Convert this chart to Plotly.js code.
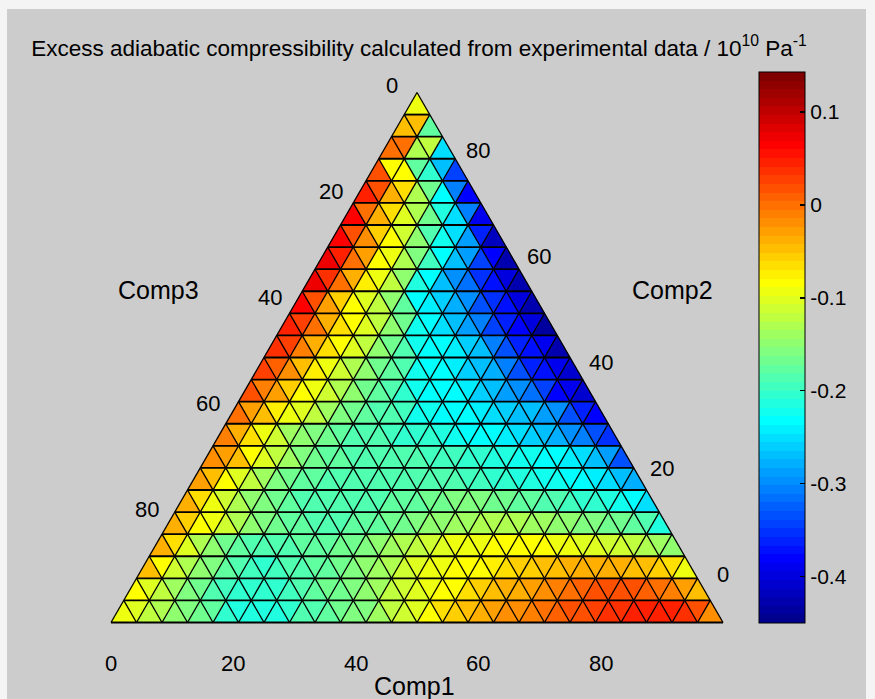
<!DOCTYPE html>
<html><head><meta charset="utf-8">
<script src="https://cdn.plot.ly/plotly-3.0.1.min.js"></script>
<style>html,body{margin:0;padding:0;background:#ffffff;}#chart{width:875px;height:699px;}</style>
</head><body><div id="chart"></div>
<script>
// ---------------- DATA ----------------
// Triangle mesh: 24 subdivisions per side. Each row (bottom -> top) lists the
// triangle values left -> right (alternating up / down triangles).
const nDiv = 24;
const row00 = [-0.09,-0.10,-0.12,-0.13,-0.15,-0.16,-0.17,-0.18,-0.20,-0.21,-0.215,-0.21,-0.21,-0.20,-0.19,-0.185,-0.18,-0.17,-0.16,-0.155,-0.14,-0.125,-0.11,-0.10,-0.085,-0.07,-0.06,-0.05,-0.04,-0.03,-0.02,-0.02,-0.01,0.0,0.01,0.02,0.02,0.03,0.04,0.04,0.045,0.05,0.05,0.05,0.04,0.02,-0.02];
const row01 = [-0.08,-0.10,-0.12,-0.14,-0.155,-0.17,-0.185,-0.195,-0.20,-0.205,-0.20,-0.20,-0.195,-0.19,-0.18,-0.17,-0.165,-0.16,-0.15,-0.14,-0.125,-0.11,-0.10,-0.09,-0.085,-0.08,-0.07,-0.06,-0.05,-0.04,-0.035,-0.03,-0.02,-0.01,0.0,0.01,0.015,0.02,0.02,0.015,0.01,0.0,-0.01,-0.03,-0.05];
const row02 = [-0.05,-0.08,-0.11,-0.13,-0.15,-0.16,-0.175,-0.19,-0.195,-0.20,-0.195,-0.19,-0.185,-0.18,-0.175,-0.17,-0.16,-0.15,-0.14,-0.13,-0.115,-0.105,-0.095,-0.09,-0.085,-0.085,-0.08,-0.075,-0.07,-0.06,-0.055,-0.05,-0.045,-0.04,-0.035,-0.035,-0.035,-0.04,-0.045,-0.05,-0.06,-0.07,-0.09];
const row03 = [-0.04,-0.07,-0.10,-0.13,-0.15,-0.165,-0.18,-0.19,-0.19,-0.19,-0.185,-0.18,-0.18,-0.175,-0.17,-0.165,-0.16,-0.15,-0.14,-0.13,-0.12,-0.11,-0.10,-0.095,-0.09,-0.09,-0.085,-0.085,-0.08,-0.08,-0.085,-0.09,-0.095,-0.10,-0.105,-0.11,-0.115,-0.12,-0.13,-0.14,-0.15];
const row04 = [-0.04,-0.06,-0.08,-0.09,-0.11,-0.13,-0.145,-0.16,-0.17,-0.175,-0.18,-0.185,-0.185,-0.185,-0.18,-0.18,-0.175,-0.17,-0.165,-0.16,-0.15,-0.145,-0.14,-0.135,-0.13,-0.13,-0.13,-0.13,-0.135,-0.14,-0.145,-0.15,-0.155,-0.16,-0.165,-0.17,-0.18,-0.19,-0.21];
const row05 = [-0.04,-0.07,-0.09,-0.11,-0.13,-0.15,-0.16,-0.17,-0.18,-0.185,-0.19,-0.19,-0.19,-0.19,-0.185,-0.185,-0.18,-0.18,-0.175,-0.17,-0.165,-0.16,-0.16,-0.16,-0.165,-0.17,-0.175,-0.18,-0.185,-0.19,-0.195,-0.20,-0.205,-0.21,-0.22,-0.235,-0.25];
const row06 = [-0.03,-0.05,-0.08,-0.10,-0.12,-0.14,-0.155,-0.165,-0.175,-0.18,-0.185,-0.19,-0.19,-0.19,-0.19,-0.19,-0.19,-0.19,-0.19,-0.19,-0.19,-0.195,-0.195,-0.20,-0.205,-0.21,-0.215,-0.22,-0.225,-0.23,-0.235,-0.24,-0.25,-0.265,-0.28];
const row07 = [-0.02,-0.03,-0.05,-0.08,-0.10,-0.12,-0.14,-0.155,-0.165,-0.175,-0.18,-0.185,-0.19,-0.19,-0.19,-0.19,-0.19,-0.195,-0.195,-0.195,-0.20,-0.205,-0.21,-0.215,-0.22,-0.225,-0.23,-0.235,-0.24,-0.25,-0.265,-0.29,-0.33];
const row08 = [-0.01,-0.04,-0.07,-0.09,-0.115,-0.135,-0.15,-0.16,-0.17,-0.18,-0.185,-0.19,-0.19,-0.195,-0.20,-0.20,-0.205,-0.215,-0.225,-0.23,-0.235,-0.235,-0.24,-0.25,-0.26,-0.265,-0.28,-0.295,-0.31,-0.33,-0.35];
const row09 = [0.0,-0.03,-0.05,-0.075,-0.09,-0.10,-0.12,-0.14,-0.155,-0.165,-0.175,-0.185,-0.19,-0.195,-0.22,-0.225,-0.23,-0.235,-0.235,-0.24,-0.25,-0.26,-0.265,-0.27,-0.29,-0.30,-0.33,-0.36,-0.38];
const row10 = [0.02,-0.01,-0.03,-0.055,-0.08,-0.09,-0.11,-0.13,-0.15,-0.165,-0.18,-0.19,-0.20,-0.225,-0.23,-0.235,-0.235,-0.24,-0.26,-0.27,-0.29,-0.30,-0.32,-0.34,-0.38,-0.39,-0.41];
const row11 = [0.025,0.01,-0.02,-0.05,-0.075,-0.09,-0.11,-0.13,-0.15,-0.165,-0.18,-0.19,-0.225,-0.235,-0.235,-0.24,-0.26,-0.265,-0.28,-0.31,-0.33,-0.36,-0.37,-0.39,-0.41];
const row12 = [0.04,0.025,-0.01,-0.04,-0.07,-0.085,-0.10,-0.125,-0.15,-0.17,-0.185,-0.22,-0.23,-0.235,-0.24,-0.26,-0.27,-0.31,-0.33,-0.36,-0.37,-0.39,-0.43];
const row13 = [0.05,0.03,0.0,-0.04,-0.07,-0.085,-0.10,-0.125,-0.15,-0.17,-0.22,-0.235,-0.25,-0.27,-0.29,-0.31,-0.34,-0.36,-0.38,-0.40,-0.44];
const row14 = [0.06,0.02,-0.03,-0.06,-0.085,-0.10,-0.125,-0.15,-0.175,-0.23,-0.245,-0.26,-0.28,-0.30,-0.33,-0.35,-0.37,-0.40,-0.43];
const row15 = [0.07,0.04,0.0,-0.04,-0.075,-0.09,-0.12,-0.15,-0.21,-0.235,-0.265,-0.30,-0.32,-0.35,-0.37,-0.40,-0.43];
const row16 = [0.07,0.05,0.0,-0.03,-0.08,-0.095,-0.13,-0.16,-0.195,-0.23,-0.265,-0.29,-0.34,-0.38,-0.43];
const row17 = [0.06,0.02,-0.02,-0.06,-0.085,-0.11,-0.15,-0.19,-0.22,-0.25,-0.29,-0.36,-0.42];
const row18 = [0.06,0.0,-0.04,-0.07,-0.10,-0.13,-0.17,-0.21,-0.25,-0.31,-0.39];
const row19 = [0.05,0.02,-0.04,-0.07,-0.13,-0.17,-0.23,-0.31,-0.38];
const row20 = [0.02,-0.08,-0.085,-0.18,-0.20,-0.27,-0.34];
const row21 = [0.0,0.0,-0.13,-0.12,-0.25];
const row22 = [-0.05,-0.05,-0.18];
const row23 = [-0.095];
const rows = [row00,row01,row02,row03,row04,row05,row06,row07,row08,row09,row10,row11,
              row12,row13,row14,row15,row16,row17,row18,row19,row20,row21,row22,row23];

const cmin = -0.45, cmax = 0.143;
const colorTicks = [-0.4,-0.3,-0.2,-0.1,0,0.1];
const colorTickText = ['-0.4','-0.3','-0.2','-0.1','0','0.1'];
const sideTicks = [0,20,40,60,80];
const sideTickText = ['0','20','40','60','80'];
const compNames = ['Comp1','Comp2','Comp3'];
const titleText = 'Excess adiabatic compressibility calculated from experimental data / 10<sup>10</sup> Pa<sup>-1</sup>';

// ---------------- STYLE / LAYOUT ----------------
const W = 875, H = 699;
const FONT = 'Liberation Sans, Arial, Helvetica, sans-serif';
const pxPerUnit = 6.12, x0px = 111, y0px = 622.5;      // data (0,0) at these pixels
const cb = {left:759, bottom:623, thick:46, len:551};   // colorbar box in pixels
const frame = {left:7, right:866, top:9};               // grey figure area inside a thin white border

rows.forEach((r,k)=>{ if(r.length !== 2*(nDiv-k)-1){ document.body.insertAdjacentHTML('beforeend','<p>row '+k+' has '+r.length); } });

// MATLAB jet(64)
function jet(m){
  const n = Math.ceil(m/4), u = [];
  for(let i=1;i<=n;i++) u.push(i/n);
  for(let i=0;i<n-1;i++) u.push(1);
  for(let i=n;i>=1;i--) u.push(i/n);
  const J = []; for(let i=0;i<m;i++) J.push([0,0,0]);
  const off = Math.ceil(n/2) - ((m%4)===1?1:0);
  for(let k=0;k<u.length;k++){
    const g = off + k + 1, r = g + n, b = g - n;
    if(g<=m) J[g-1][1] = u[k];
    if(r<=m) J[r-1][0] = u[k];
    if(b>=1) J[b-1][2] = u[k];
  }
  return J.map(c=>'rgb('+c.map(v=>Math.round(v*255)).join(',')+')');
}
const jetCols = jet(64);
const jetScale = [];
jetCols.forEach((c,i)=>{ jetScale.push([i/64,c]); jetScale.push([(i+1)/64,c]); });
function binOf(v){ let i = Math.floor((v-cmin)/(cmax-cmin)*64); return Math.max(0,Math.min(63,i)); }

const s = 100/nDiv, h = s*Math.sqrt(3)/2;
const bins = jetCols.map(()=>({x:[],y:[]}));
rows.forEach((r,k)=>{
  const xs = k*s/2, yb = k*h, yt = (k+1)*h;
  r.forEach((v,i)=>{
    const j = Math.floor(i/2);
    let px, py;
    if(i%2===0){ px=[xs+j*s, xs+(j+1)*s, xs+j*s+s/2, xs+j*s]; py=[yb,yb,yt,yb]; }
    else { px=[xs+j*s+s/2, xs+(j+1)*s+s/2, xs+(j+1)*s, xs+j*s+s/2]; py=[yt,yt,yb,yt]; }
    const b = bins[binOf(v)];
    b.x.push(...px, null); b.y.push(...py, null);
  });
});
const traces = [];
bins.forEach((b,i)=>{ if(b.x.length){ traces.push({type:'scatter',mode:'lines',x:b.x,y:b.y,fill:'toself',
  fillcolor:jetCols[i],line:{width:0.6,color:jetCols[i]},hoverinfo:'skip',showlegend:false}); }});

// grid lines
const hx=[], hy=[], dx=[], dy=[];
for(let k=0;k<nDiv;k++){ hx.push(k*s/2, 100-k*s/2, null); hy.push(k*h,k*h,null); }
const S3 = Math.sqrt(3)/2;
for(let j=0;j<=nDiv;j++){
  const L1 = 100 - j*s; dx.push(j*s, j*s+L1/2, null); dy.push(0, L1*S3, null);
  const L2 = j*s; dx.push(j*s, j*s/2, null); dy.push(0, L2*S3, null);
}
traces.push({type:'scatter',mode:'lines',x:dx,y:dy,line:{width:1.3,color:'#000'},hoverinfo:'skip',showlegend:false});
traces.push({type:'scatter',mode:'lines',x:hx,y:hy,line:{width:1.9,color:'#000'},hoverinfo:'skip',showlegend:false});

// colorbar carrier
traces.push({type:'scatter',mode:'markers',x:[-1000],y:[-1000],hoverinfo:'skip',showlegend:false,
  marker:{color:[cmin],cmin:cmin,cmax:cmax,colorscale:jetScale,showscale:true,
    colorbar:{thickness:cb.thick,thicknessmode:'pixels',len:cb.len,lenmode:'pixels',
      x:cb.left/W,xanchor:'left',y:(H-cb.bottom)/H,yanchor:'bottom',xpad:0,ypad:0,
      outlinewidth:1,outlinecolor:'#000',borderwidth:0,bgcolor:'rgba(0,0,0,0)',
      tickmode:'array',tickvals:colorTicks,ticktext:colorTickText,ticks:'inside',ticklen:5,tickwidth:1.5,tickcolor:'#000',
      tickfont:{family:FONT,size:21,color:'#000'}}}});

// annotations
const ann = [];
const txt = (t,x,y,opt)=>Object.assign({text:t,x:x,y:y,xref:'x',yref:'y',xanchor:'center',yanchor:'middle',showarrow:false,font:{family:FONT,size:22,color:'#000'}},opt||{});
sideTicks.forEach((v,i)=>{
  ann.push(txt(sideTickText[i], v, 0, {yshift:-40.5}));                                  // Comp1 (bottom)
  ann.push(txt(sideTickText[i], 50 - v/2, 100*S3*(1-v/100), {xshift:-25, yshift:7}));   // Comp3 (left)
  ann.push(txt(sideTickText[i], 100 - v/2, 100*S3*v/100, {xshift:0, yshift:48}));        // Comp2 (right)
});
const lab = (t,xp,yp)=>({text:t,xref:'paper',yref:'paper',x:xp/W,y:1-yp/H,xanchor:'center',yanchor:'middle',showarrow:false,font:{family:FONT,size:25,color:'#000'}});
ann.push(lab(compNames[0],414,686));
ann.push(lab(compNames[1],672,290));
ann.push(lab(compNames[2],158,290));

// grey figure area + left-side colorbar ticks
const shapes = [{type:'rect',xref:'paper',yref:'paper',x0:frame.left/W,x1:frame.right/W,y0:0,y1:1-frame.top/H,
  fillcolor:'#cccccc',line:{width:0},layer:'below'}];
colorTicks.forEach(v=>{
  const ypx = cb.bottom - (v-cmin)/(cmax-cmin)*cb.len;
  shapes.push({type:'line',xref:'paper',yref:'paper',x0:cb.left/W,x1:(cb.left+5)/W,y0:1-ypx/H,y1:1-ypx/H,line:{color:'#000',width:1.5}});
});

const layout = {
  width:W,height:H,margin:{l:0,r:0,t:0,b:0,autoexpand:false},
  paper_bgcolor:'#f4f4f4',plot_bgcolor:'rgba(0,0,0,0)',
  title:{text:titleText,x:419/W,xref:'paper',xanchor:'center',y:1-48/H,yref:'paper',yanchor:'middle',
    font:{family:FONT,size:22.5,color:'#000'}},
  xaxis:{range:[-x0px/pxPerUnit,(W-x0px)/pxPerUnit],visible:false,fixedrange:true},
  yaxis:{range:[-(H-y0px)/pxPerUnit,y0px/pxPerUnit],visible:false,fixedrange:true},
  annotations:ann,shapes:shapes,showlegend:false
};
Plotly.newPlot('chart',traces,layout,{staticPlot:true,displayModeBar:false});
</script></body></html>
